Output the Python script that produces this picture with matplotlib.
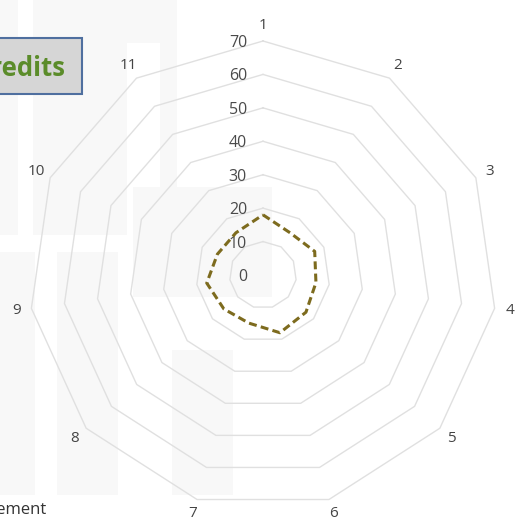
import numpy as np
import matplotlib
matplotlib.use('Agg')
import matplotlib.pyplot as plt
from matplotlib.patches import Rectangle

# chart data
categories = ['1', '2', '3', '4', '5', '6', '7', '8', '9', '10', '11']
values = [18, 15, 17, 16, 17, 18, 15, 15.5, 17, 15, 15]
levels = [0, 10, 20, 30, 40, 50, 60, 70]

plt.rcParams['font.family'] = ['Open Sans', 'DejaVu Sans']

W, H = 515, 521
fig = plt.figure(figsize=(W / 100, H / 100), dpi=100)
fig.patch.set_facecolor('white')

# faint watermark blocks behind the chart (pixel boxes x0, y0, x1, y1)
blocks = [(0, 0, 18, 235), (33, 0, 127, 235), (127, 0, 160, 43),
          (160, 0, 177, 235), (0, 252, 35, 495), (57, 252, 118, 495),
          (172, 350, 233, 495), (133, 187, 272, 297)]
for x0, y0, x1, y1 in blocks:
    fig.add_artist(Rectangle((x0 / W, 1 - y1 / H), (x1 - x0) / W, (y1 - y0) / H,
                             transform=fig.transFigure, facecolor='#f8f8f8',
                             edgecolor='none', zorder=0))

# polar axes placed so r=70 is 234 px around (263, 275)
cx, cy, R = 263, 275, 234
ax = fig.add_axes([(cx - R) / W, (H - cy - R) / H, 2 * R / W, 2 * R / H], polar=True)
ax.patch.set_alpha(0)
ax.set_theta_zero_location('N')
ax.set_theta_direction(-1)
ax.set_ylim(0, 70)
ax.axis('off')

N = len(categories)
angles = np.linspace(0, 2 * np.pi, N, endpoint=False)
ang_c = np.concatenate((angles, [angles[0]]))

for lv in levels[1:]:
    ax.plot(ang_c, [lv] * (N + 1), color='#e0e0e0', lw=1, zorder=1, clip_on=False)

for lv in levels:
    ax.annotate(str(lv), xy=(0, lv), xytext=(-16, -2), textcoords='offset pixels',
                ha='right', va='center', fontsize=11.5, color='#4a4a4a',
                annotation_clip=False)

for a, lab in zip(angles, categories):
    ax.text(a, 74.5, lab, ha='center', va='center', fontsize=11, color='#444444')

vals = np.concatenate((values, [values[0]]))
ax.plot(ang_c, vals, color='#7d6b1e', lw=2.2, ls=(0, (2.6, 1.4)), zorder=3)

# cropped legend-like box and caption
fig.add_artist(Rectangle((-60 / W, 1 - 94 / H), 142 / W, 56 / H, transform=fig.transFigure,
                         facecolor='#d6d6d6', edgecolor='#4f6f9f', lw=1.5, zorder=2))
fig.text(66 / W, 1 - 69 / H, 'Credits', ha='right', va='center', fontsize=18.5,
         fontweight='bold', color='#5b8c2a', zorder=3)
fig.text(46 / W, 1 - 510 / H, 'Achievement', ha='right', va='center', fontsize=12,
         color='#333333')

plt.savefig('out.png', dpi=100)
